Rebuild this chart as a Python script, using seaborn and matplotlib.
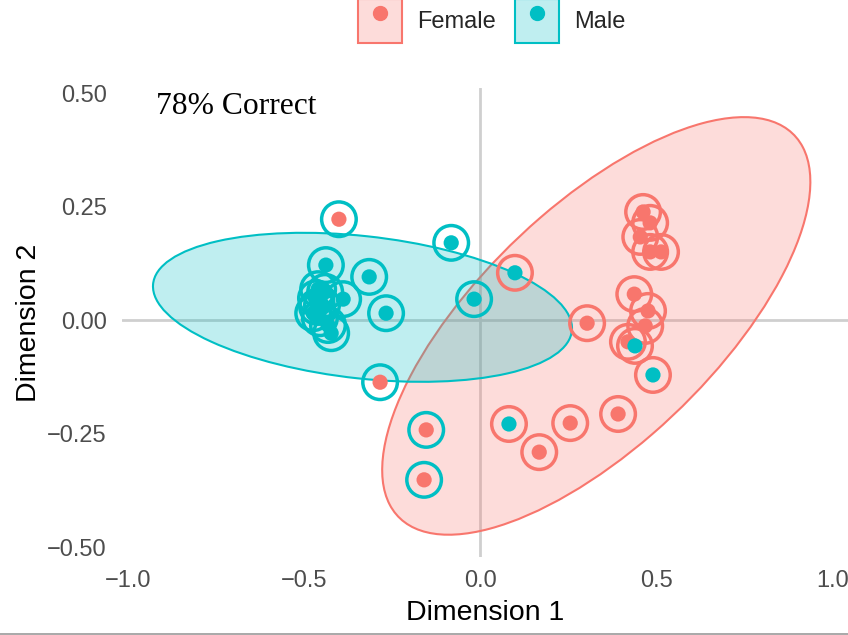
import matplotlib
matplotlib.use('Agg')
import matplotlib.pyplot as plt
import matplotlib.colors as mcolors
from matplotlib.patches import Ellipse, Patch
from matplotlib.lines import Line2D
import pandas as pd
import seaborn as sns

# Position of each subject on the two dimensions
dim1 = [-0.401, -0.438, -0.315, -0.389, -0.267, -0.460, -0.466, -0.449, -0.474,
        -0.455, -0.432, -0.423, -0.463, -0.440, -0.082, -0.017, 0.099, -0.284,
        -0.153, -0.159, 0.082, 0.168, 0.256, 0.392, 0.304, 0.463, 0.483, 0.455,
        0.483, 0.514, 0.438, 0.477, 0.469, 0.420, 0.440, 0.491]
dim2 = [0.222, 0.121, 0.095, 0.046, 0.015, 0.068, 0.048, 0.033, 0.015,
        0.004, -0.011, -0.029, 0.029, 0.062, 0.170, 0.046, 0.104, -0.137,
        -0.242, -0.352, -0.229, -0.291, -0.227, -0.207, -0.007, 0.238, 0.214, 0.183,
        0.150, 0.150, 0.057, 0.020, -0.013, -0.048, -0.057, -0.121]
# inner dot = actual sex, outer ring = group the subject was classified into
actual = ['Female', 'Male', 'Male', 'Male', 'Male', 'Male', 'Male', 'Male', 'Male',
          'Male', 'Male', 'Male', 'Male', 'Male', 'Male', 'Male', 'Male', 'Female',
          'Female', 'Female', 'Male', 'Female', 'Female', 'Female', 'Female', 'Female',
          'Female', 'Female', 'Female', 'Female', 'Female', 'Female', 'Female', 'Female',
          'Male', 'Male']
predicted = ['Male', 'Male', 'Male', 'Male', 'Male', 'Male', 'Male', 'Male', 'Male',
             'Male', 'Male', 'Male', 'Male', 'Male', 'Male', 'Male', 'Female', 'Male',
             'Male', 'Male', 'Female', 'Female', 'Female', 'Female', 'Female', 'Female',
             'Female', 'Female', 'Female', 'Female', 'Female', 'Female', 'Female', 'Female',
             'Female', 'Female']

# group ellipses: centre, full width / height along own axes, rotation (deg)
groups = ['Female', 'Male']
ell_x = [0.330, -0.334]
ell_y = [-0.013, 0.028]
ell_w = [1.413, 1.194]
ell_h = [0.573, 0.314]
ell_angle = [33.85, -4.76]

xticks = [-1.0, -0.5, 0.0, 0.5, 1.0]
yticks = [-0.50, -0.25, 0.00, 0.25, 0.50]

palette = {'Female': '#F8766D', 'Male': '#00BFC4'}

df = pd.DataFrame({'dim1': dim1, 'dim2': dim2, 'actual': actual, 'predicted': predicted})
pct = round(100 * (df['actual'] == df['predicted']).mean())

sns.set_theme(style='white')
plt.rcParams['font.family'] = ['Liberation Sans', 'DejaVu Sans']

fig = plt.figure(figsize=(8.48, 6.35), dpi=100)
ax = fig.add_axes([0.1439, 0.1228, 0.8561, 0.7386])

# reference lines through the origin
ax.axhline(0, color='#cfcfcf', lw=2, zorder=0.5)
ax.axvline(0, color='#cfcfcf', lw=2, zorder=0.5)

for g, cx, cy, w, h, a in zip(groups, ell_x, ell_y, ell_w, ell_h, ell_angle):
    ax.add_patch(Ellipse((cx, cy), w, h, angle=a,
                         facecolor=mcolors.to_rgba(palette[g], 0.25),
                         edgecolor=palette[g], lw=1.5, zorder=1))

# rings (classification)
sns.scatterplot(data=df, x='dim1', y='dim2', hue='predicted', palette=palette,
                s=620, legend=False, ax=ax, zorder=2)
rings = ax.collections[-1]
rings.set_edgecolors(rings.get_facecolors())
rings.set_facecolors('none')
rings.set_linewidth(2.5)

# dots (actual sex)
sns.scatterplot(data=df, x='dim1', y='dim2', hue='actual', palette=palette,
                s=120, linewidth=0, legend=False, ax=ax, zorder=3)

ax.set_xlim(-1.017, 1.045)
ax.set_ylim(-0.522, 0.511)
ax.set_xticks(xticks)
ax.set_xticklabels([f'{v:.1f}'.replace('-', '\u2212') for v in xticks])
ax.set_yticks(yticks)
ax.set_yticklabels([f'{v:.2f}'.replace('-', '\u2212') for v in yticks])
ax.tick_params(length=0, labelsize=17, labelcolor='#4d4d4d')
ax.tick_params(axis='x', pad=9)
ax.tick_params(axis='y', pad=11)
for s in ax.spines.values():
    s.set_visible(False)
ax.set_facecolor('none')
ax.set_xlabel('Dimension 1', fontsize=20.5, color='black', labelpad=6)
ax.set_ylabel('Dimension 2', fontsize=20.5, color='black', labelpad=4)

ax.text(-0.92, 0.47, f'{pct}% Correct', family='Liberation Serif', fontsize=22.7,
        va='center', ha='left', color='black')

# legend on top
handles = [(Patch(facecolor=mcolors.to_rgba(palette[g], 0.25), edgecolor=palette[g], lw=1.5),
            Line2D([], [], marker='o', color=palette[g], linestyle='', markersize=10))
           for g in groups]
fig.legend(handles, groups, loc='center', bbox_to_anchor=(0.58, 1 - 21 / 635), ncol=2,
           frameon=False, fontsize=17, handlelength=1.88, handleheight=2.52,
           handletextpad=0.64, columnspacing=0.8)

# thin grey frame line at the bottom
fig.add_artist(Line2D([0, 1], [1.5 / 635, 1.5 / 635], color='#999999', lw=1.2,
                      transform=fig.transFigure))

fig.savefig('out.png', dpi=100)
